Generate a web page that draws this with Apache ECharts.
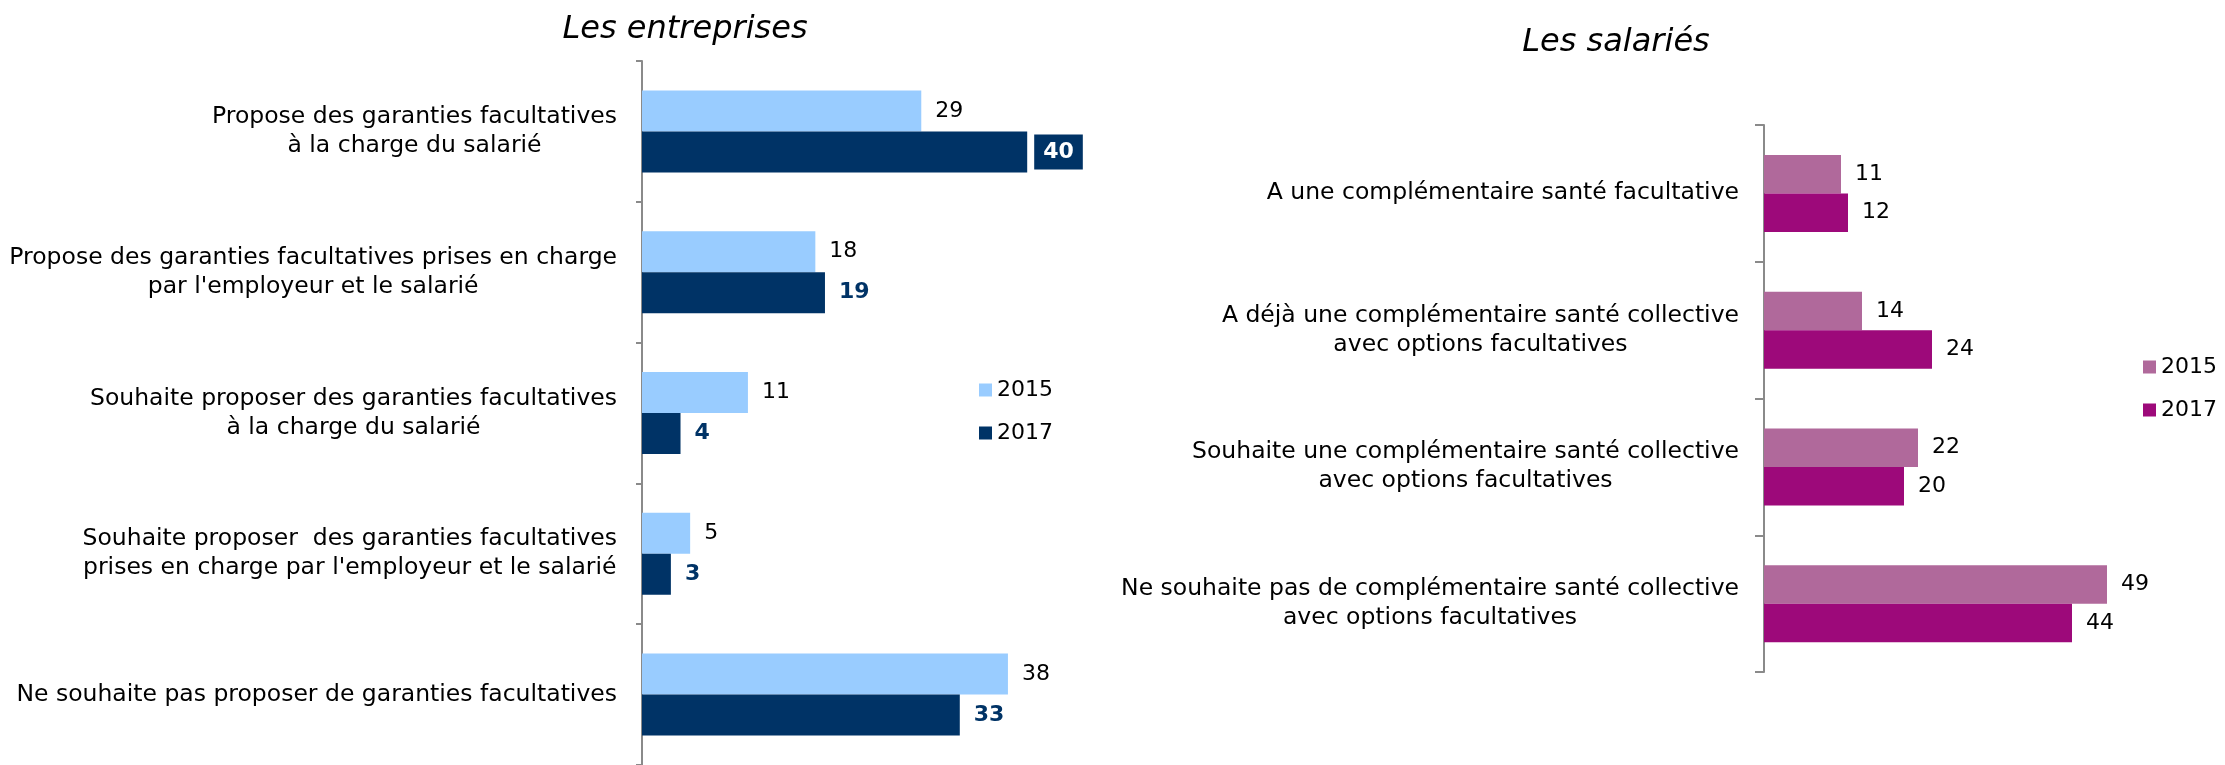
<!DOCTYPE html>
<html><head><meta charset="utf-8">
<script src="https://cdn.jsdelivr.net/npm/echarts@6/dist/echarts.min.js"></script>
<style>html,body{margin:0;padding:0;background:#fff}#c{width:2225px;height:765px}</style>
</head><body><div id="c"></div>
<script>
// ---- data ----
const entCategories = [
  "Propose des garanties facultatives\nà la charge du salarié",
  "Propose des garanties facultatives prises en charge\npar l'employeur et le salarié",
  "Souhaite proposer des garanties facultatives\nà la charge du salarié",
  "Souhaite proposer  des garanties facultatives\nprises en charge par l'employeur et le salarié",
  "Ne souhaite pas proposer de garanties facultatives"
];
const ent2015 = [29, 18, 11, 5, 38];
const ent2017 = [40, 19, 4, 3, 33];

const salCategories = [
  "A une complémentaire santé facultative",
  "A déjà une complémentaire santé collective\navec options facultatives",
  "Souhaite une complémentaire santé collective\navec options facultatives",
  "Ne souhaite pas de complémentaire santé collective\navec options facultatives"
];
const sal2015 = [11, 14, 22, 49];
const sal2017 = [12, 24, 20, 44];

const years = ["2015", "2017"];
const titles = ["Les entreprises", "Les salariés"];

// ---- styles ----
const FONT = "'DejaVu Sans', Verdana, sans-serif";
const C_ENT = ['#99CCFF', '#003366'];
const C_SAL = ['#B0699B', '#9D097A'];
const AXIS_C = '#8a8a8a';
const boxedIndex = 0; // 2017 label drawn in a filled box

function catLabel(v) { return v.split('\n').map(s => '{c|' + s + '}').join('\n'); }
const catAxisLabel = {
  margin: 25,
  formatter: catLabel,
  rich: { c: { align: 'center', fontFamily: FONT, fontSize: 23.5, lineHeight: 29, color: '#000' } }
};
function catAxis(gridIndex, data, tickLen) {
  return {
    type: 'category', gridIndex, data, inverse: true,
    axisLine: { show: true, lineStyle: { color: AXIS_C, width: 2 } },
    axisTick: { show: true, inside: false, alignWithLabel: false, length: tickLen, lineStyle: { color: AXIS_C, width: 2 } },
    axisLabel: catAxisLabel
  };
}
function valAxis(gridIndex) {
  return { type: 'value', gridIndex, min: 0, max: 50, show: false, splitLine: { show: false } };
}
const baseLabel = { show: true, position: 'right', distance: 14, fontFamily: FONT, fontSize: 22, color: '#000' };
const titleStyle = { fontFamily: FONT, fontStyle: 'italic', fontWeight: 'normal', fontSize: 32, color: '#000' };

const chart = echarts.init(document.getElementById('c'));
chart.setOption({
  animation: false,
  backgroundColor: '#fff',
  title: [
    { text: titles[0], left: 685, top: 14, padding: 0, textAlign: 'center', textStyle: titleStyle },
    { text: titles[1], left: 1616, top: 27, padding: 0, textAlign: 'center', textStyle: titleStyle }
  ],
  legend: [
    { left: 979, top: 379, padding: 0, orient: 'vertical', icon: 'rect', itemWidth: 13, itemHeight: 13, itemGap: 21,
      selectedMode: false,
      data: years.map((y, i) => ({ name: y, itemStyle: { color: C_ENT[i] } })),
      textStyle: { fontFamily: FONT, fontSize: 22, color: '#000' } },
    { left: 2143, top: 356, padding: 0, orient: 'vertical', icon: 'rect', itemWidth: 13, itemHeight: 13, itemGap: 21,
      selectedMode: false,
      data: years.map((y, i) => ({ name: y, itemStyle: { color: C_SAL[i] } })),
      textStyle: { fontFamily: FONT, fontSize: 22, color: '#000' } }
  ],
  grid: [
    { left: 642, top: 61, width: 481.5, height: 707 },
    { left: 1764, top: 125, width: 350, height: 547 }
  ],
  xAxis: [valAxis(0), valAxis(1)],
  yAxis: [catAxis(0, entCategories, 6), catAxis(1, salCategories, 9)],
  series: [
    { type: 'bar', name: years[0], xAxisIndex: 0, yAxisIndex: 0, data: ent2015,
      barWidth: 41, barGap: '0%', itemStyle: { color: C_ENT[0] }, label: baseLabel },
    { type: 'bar', name: years[1], xAxisIndex: 0, yAxisIndex: 0,
      data: ent2017.map((v, i) => i === boxedIndex
        ? { value: v, label: { backgroundColor: C_ENT[1], color: '#fff', padding: [7, 9, 6, 9], distance: 7 } }
        : v),
      barWidth: 41, barGap: '0%', itemStyle: { color: C_ENT[1] },
      label: Object.assign({}, baseLabel, { fontWeight: 'bold', color: C_ENT[1] }) },
    { type: 'bar', name: years[0], xAxisIndex: 1, yAxisIndex: 1, data: sal2015,
      barWidth: 38.5, barGap: '0%', itemStyle: { color: C_SAL[0] }, label: baseLabel },
    { type: 'bar', name: years[1], xAxisIndex: 1, yAxisIndex: 1, data: sal2017,
      barWidth: 38.5, barGap: '0%', itemStyle: { color: C_SAL[1] }, label: baseLabel }
  ]
});
</script></body></html>
